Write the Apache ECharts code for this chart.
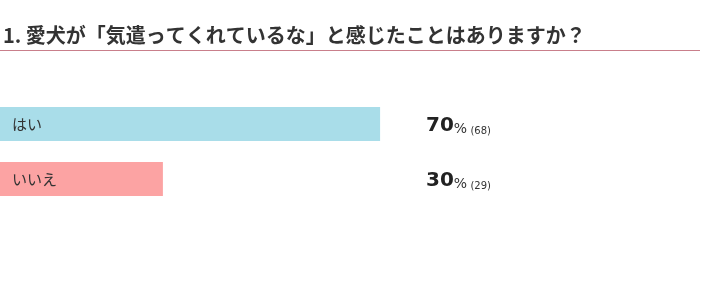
<!DOCTYPE html>
<html><head><meta charset="utf-8">
<script src="https://cdn.jsdelivr.net/npm/echarts@6/dist/echarts.min.js"></script>
<style>html,body{margin:0;padding:0;background:#fff}#c{width:710px;height:302px}</style>
</head><body><div id="c"></div>
<script>
const titleText = '1. 愛犬が「気遣ってくれているな」と感じたことはありますか？';
const categories = ['はい', 'いいえ'];
const percents = [70, 30];
const counts = [68, 29];
const barColors = ['#a9dde9', '#fca3a3'];
const fullScale = [100, 100];

const chart = echarts.init(document.getElementById('c'));
chart.setOption({
  animation: false,
  title: {
    text: titleText, left: -2, top: 20,
    textStyle: { fontFamily: 'Noto Sans CJK JP', fontSize: 20, fontWeight: 'bold', color: '#333' }
  },
  graphic: [{
    type: 'line', shape: { x1: 0, y1: 50.5, x2: 700, y2: 50.5 },
    style: { stroke: '#c97f8b', lineWidth: 1 }
  }],
  grid: { left: 0, top: 96.5, width: 543, height: 110 },
  xAxis: { type: 'value', min: 0, max: 100, show: false },
  yAxis: { type: 'category', data: categories, inverse: true, show: false },
  series: [
    {
      type: 'bar', barWidth: 34,
      data: percents.map((v, i) => ({ value: v, itemStyle: { color: barColors[i] } })),
      label: {
        show: true, position: 'insideLeft', distance: 12, formatter: '{b}',
        fontFamily: 'Noto Sans CJK JP', fontSize: 15, color: '#333'
      }
    },
    {
      type: 'bar', barWidth: 34, barGap: '-100%', silent: true,
      data: fullScale, itemStyle: { color: 'rgba(0,0,0,0)' },
      label: {
        show: true, position: [426, '50%'], verticalAlign: 'middle', align: 'left',
        formatter: p => '{v|' + percents[p.dataIndex] + '}{p|%} {c|(' + counts[p.dataIndex] + ')}',
        rich: {
          v: { fontFamily: 'DejaVu Sans', fontSize: 20, fontWeight: 'bold', color: '#222', verticalAlign: 'bottom', lineHeight: 24 },
          p: { fontFamily: 'DejaVu Sans', fontSize: 14, color: '#333', verticalAlign: 'bottom', lineHeight: 19 },
          c: { fontFamily: 'DejaVu Sans', fontSize: 10, color: '#333', verticalAlign: 'bottom', lineHeight: 16 }
        }
      }
    }
  ]
});
</script></body></html>
